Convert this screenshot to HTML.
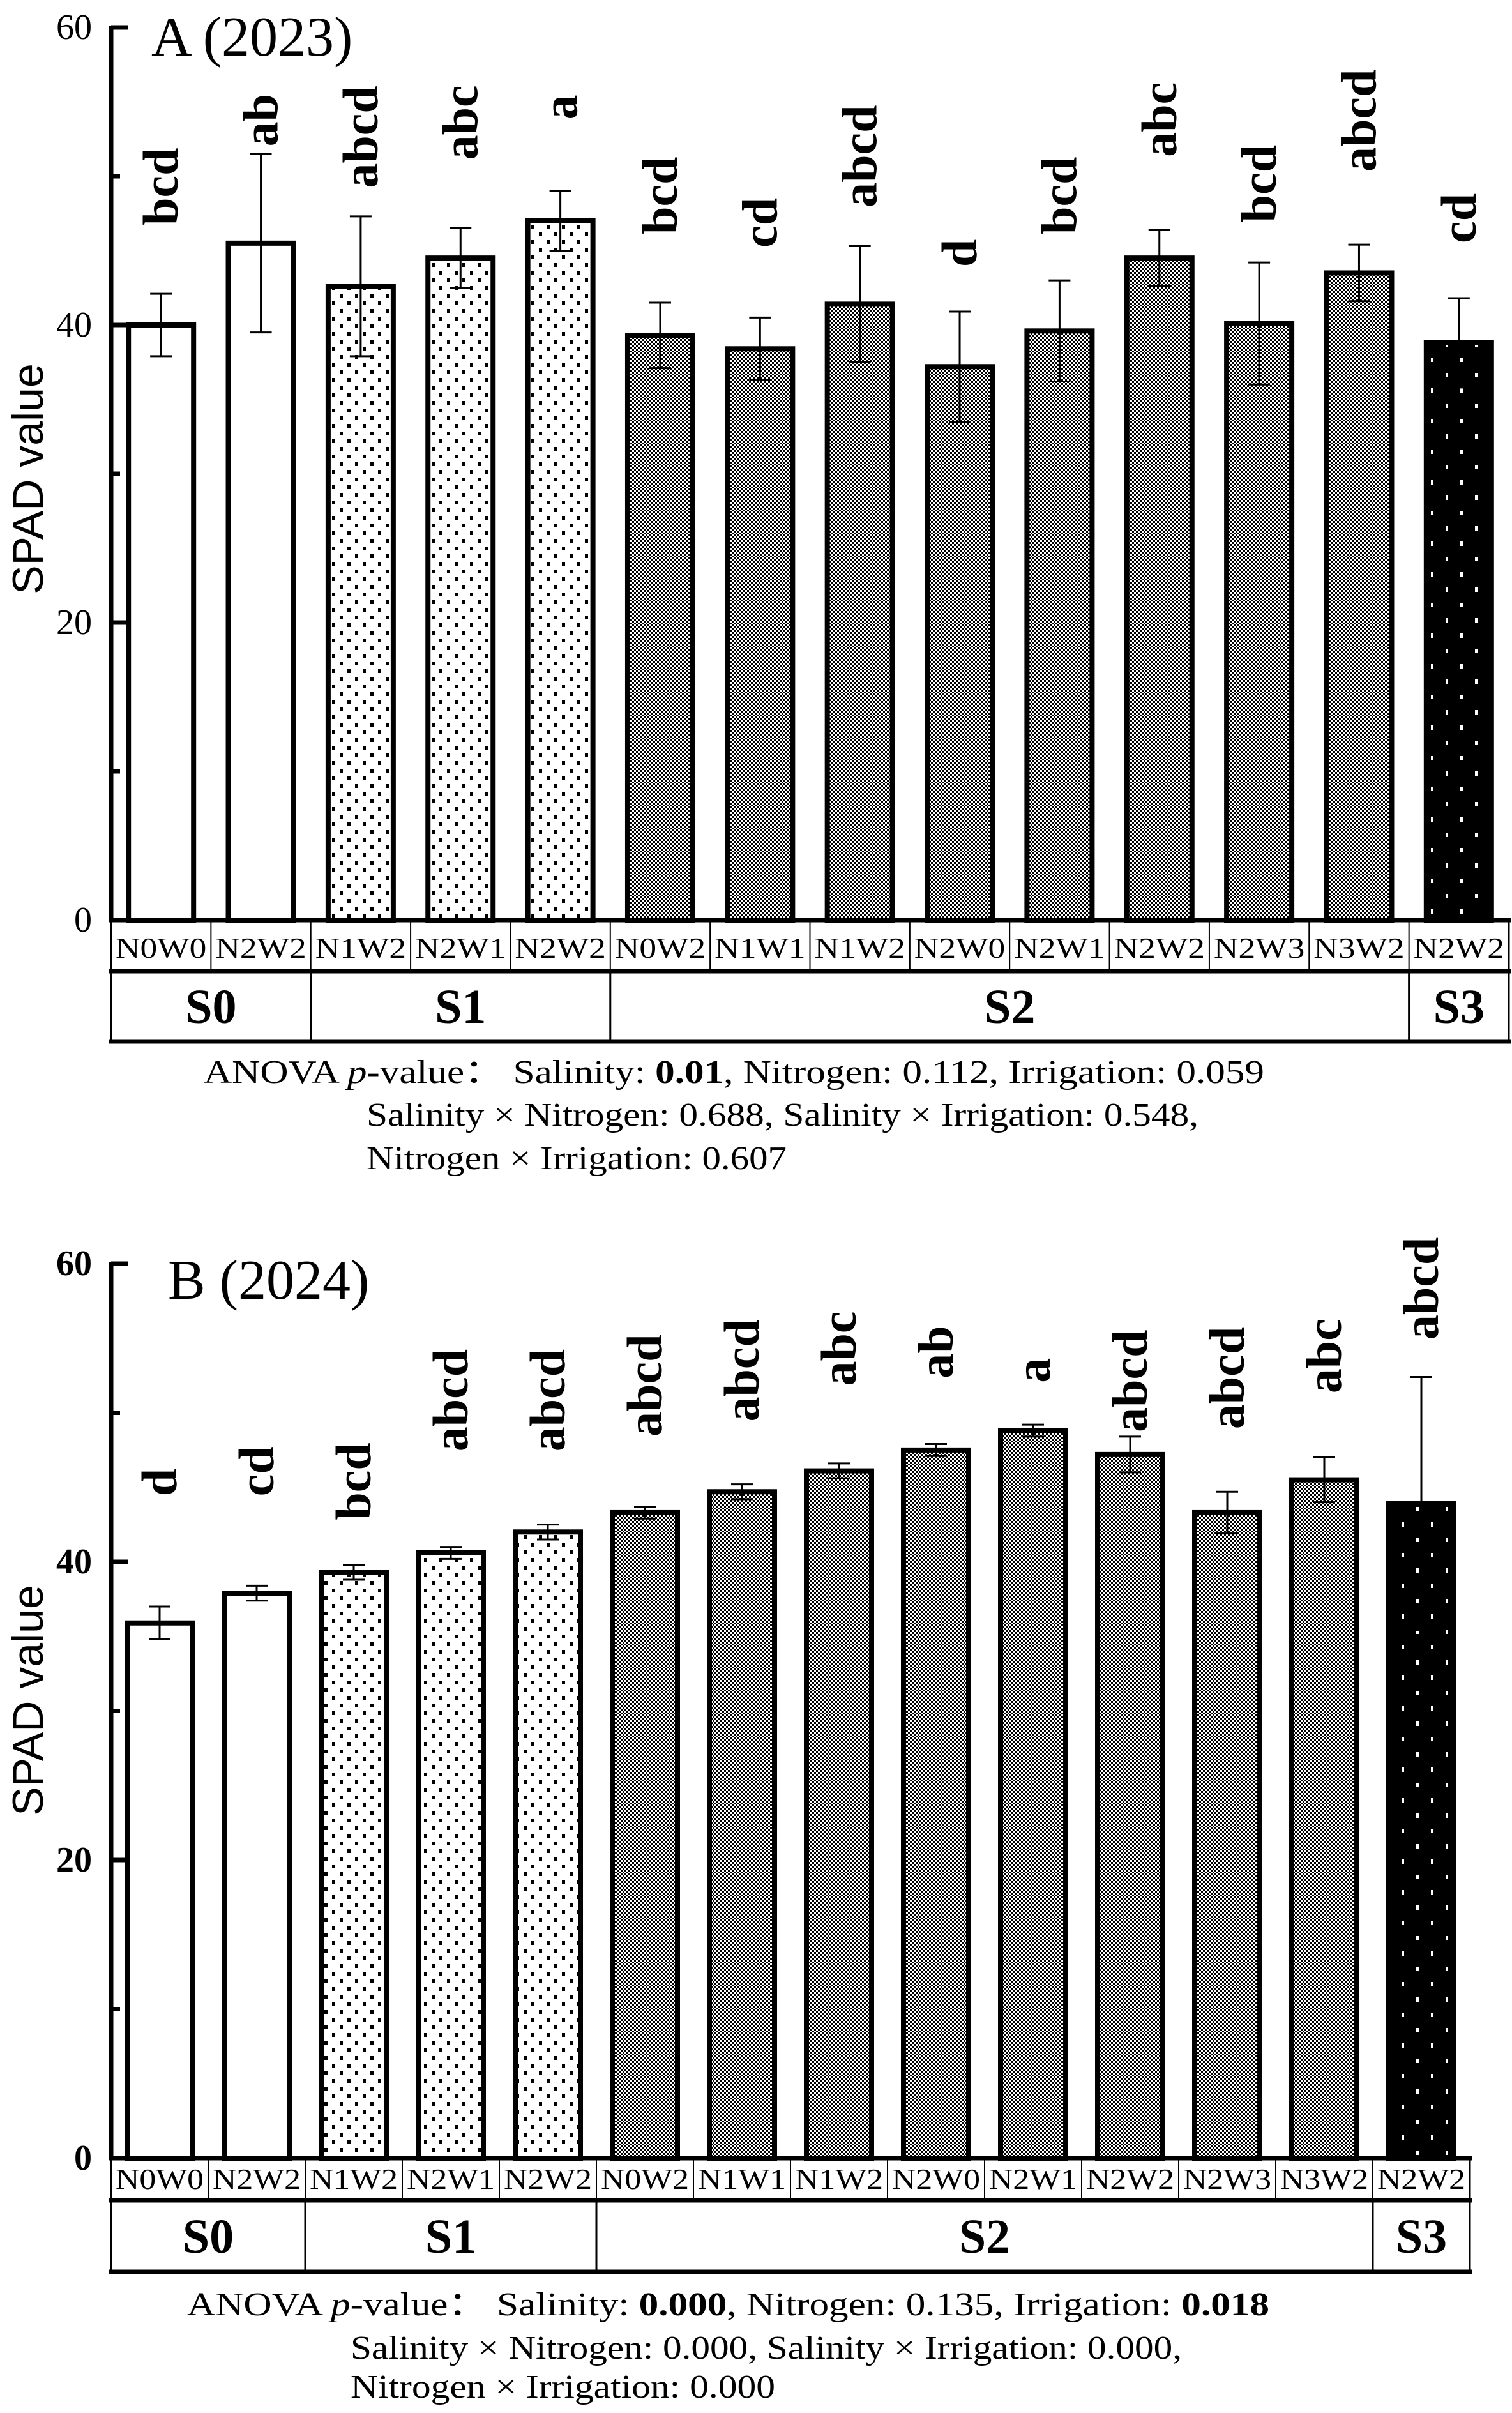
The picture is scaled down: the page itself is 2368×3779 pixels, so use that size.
<!DOCTYPE html>
<html><head><meta charset="utf-8"><style>
html,body{margin:0;padding:0;background:#fff;}
svg{display:block;}
text{font-family:"Liberation Serif","Times New Roman",serif;}
</style></head><body>
<svg id="chart" xmlns="http://www.w3.org/2000/svg" width="2368" height="3779" viewBox="0 0 2368 3779">
<defs>
<pattern id="pS1" width="24" height="24" patternUnits="userSpaceOnUse"><rect width="24" height="24" fill="#fff"/><rect x="4" y="4" width="5" height="6" fill="#000"/><rect x="16" y="16" width="5" height="6" fill="#000"/></pattern>
<pattern id="pS2" width="6" height="6" patternUnits="userSpaceOnUse"><rect width="6" height="6" fill="#fff"/><rect width="3" height="3" fill="#000"/><rect x="3" y="3" width="3" height="3" fill="#000"/></pattern>
<pattern id="pS3" width="46" height="48" patternUnits="userSpaceOnUse"><rect width="46" height="48" fill="#000"/><rect x="10" y="8" width="4" height="7" fill="#fff"/><rect x="33" y="32" width="4" height="7" fill="#fff"/></pattern>
</defs>
<g id="root"></g>
</svg>
<script>
const categories = ["N0W0","N2W2","N1W2","N2W1","N2W2","N0W2","N1W1","N1W2","N2W0","N2W1","N2W2","N2W3","N3W2","N2W2"];
const groups = ["S0","S0","S1","S1","S1","S2","S2","S2","S2","S2","S2","S2","S2","S3"];
const yTicks = [0,20,40,60];
const yMinorTicks = [10,30,50];
const valuesA = [40.0,45.5,42.6,44.5,47.0,39.3,38.4,41.4,37.2,39.6,44.5,40.1,43.5,38.8];
const errorsA = [2.1,6.0,4.7,2.0,2.0,2.2,2.1,3.9,3.7,3.4,1.9,4.1,1.9,3.0];
const lettersA = ["bcd","ab","abcd","abc","a","bcd","cd","abcd","d","bcd","abc","bcd","abcd","cd"];
const letterLevelA = [46.7,52.0,49.2,51.1,53.8,46.1,45.2,47.9,43.9,46.1,51.3,46.9,50.3,45.5];
const valuesB = [35.9,37.9,39.3,40.6,42.0,43.3,44.7,46.1,47.5,48.8,47.2,43.3,45.5,43.9];
const errorsB = [1.1,0.5,0.5,0.4,0.5,0.4,0.5,0.5,0.4,0.4,1.2,1.4,1.5,8.5];
const lettersB = ["d","cd","bcd","abcd","abcd","abcd","abcd","abc","ab","a","abcd","abcd","abc","abcd"];
const letterLevelB = [44.4,44.4,42.8,47.4,47.4,48.4,49.4,51.8,52.3,52.0,48.7,48.9,51.3,54.9];

const NS="http://www.w3.org/2000/svg";
const root=document.getElementById('root');
function mk(tag,attrs,parent){const e=document.createElementNS(NS,tag);for(const k in attrs)e.setAttribute(k,attrs[k]);(parent||root).appendChild(e);return e;}

function drawPanel(cfg){
  const g=mk('g',{});
  
  
  const n=categories.length;
  const cw=(cfg.x1-cfg.x0)/n;
  const y=v=>cfg.y0-v*cfg.ppu;
  const xc=i=>cfg.x0+cw*(i+0.5);
  for(let i=0;i<n;i++){
    const b=mk('rect',{x:xc(i)-51,y:y(cfg.values[i]),width:102,height:cfg.y0-y(cfg.values[i]),fill:groups[i]==='S0'?'#fff':'url(#p'+groups[i]+')',stroke:'#000','stroke-width':8},g);
    
    
    const top=y(cfg.values[i]+cfg.errors[i]), bot=y(cfg.values[i]-cfg.errors[i]);
    const eg=mk('g',{stroke:'#000','stroke-width':3},g);
    
    
    mk('line',{x1:xc(i),x2:xc(i),y1:top,y2:bot},eg);
    mk('line',{x1:xc(i)-17,x2:xc(i)+17,y1:top,y2:top},eg);
    mk('line',{x1:xc(i)-17,x2:xc(i)+17,y1:bot,y2:bot},eg);
    const t=mk('text',{x:0,y:0,'font-size':78,'font-weight':'bold',transform:'translate('+(xc(i)+26)+','+y(cfg.letterLevel[i])+') rotate(-90)'},g);
    t.textContent=cfg.letters[i];
    
    
  }
  const ax=mk('line',{x1:cfg.x0,x2:cfg.x0,y1:y(60)-3,y2:cfg.y0+3,stroke:'#000','stroke-width':7},g);
  
  
  yTicks.forEach(v=>{
    mk('line',{x1:cfg.x0,x2:cfg.x0+26,y1:y(v),y2:y(v),stroke:'#000','stroke-width':7},g);
    const t=mk('text',{x:144,y:y(v)+18,'text-anchor':'end','font-size':56,'font-weight':cfg.boldTicks?'bold':'normal'},g);
    t.textContent=v;
    
    
  });
  yMinorTicks.forEach(v=>{mk('line',{x1:cfg.x0,x2:cfg.x0+14,y1:y(v),y2:y(v),stroke:'#000','stroke-width':7},g);});
  const yt=mk('text',{x:0,y:0,'font-size':68,'text-anchor':'middle',style:'font-family:"Liberation Sans",sans-serif',transform:'translate(67,'+cfg.yTitleY+') rotate(-90)'},g);
  yt.textContent='SPAD value';
  
  
  const tt=mk('text',{x:cfg.titleX,y:cfg.titleY,'font-size':88},g);
  tt.textContent=cfg.title;
  
  
  const tb=mk('g',{},g);
  
  
  mk('line',{x1:cfg.x0,x2:cfg.x0,y1:cfg.y0,y2:cfg.salBottom,stroke:'#000','stroke-width':3},tb);
  mk('line',{x1:cfg.x1,x2:cfg.x1,y1:cfg.y0,y2:cfg.salBottom,stroke:'#000','stroke-width':3},tb);
  for(let i=1;i<n;i++)mk('line',{x1:cfg.x0+cw*i,x2:cfg.x0+cw*i,y1:cfg.y0,y2:cfg.labBottom,stroke:'#000','stroke-width':2},tb);
  for(let i=0;i<n;i++){
    const t=mk('text',{x:xc(i),y:cfg.labBase,'text-anchor':'middle','font-size':46,textLength:cw-14,lengthAdjust:'spacingAndGlyphs'},tb);
    t.textContent=categories[i];
    
    
  }
  const uniq=[...new Set(groups)];
  uniq.forEach(s=>{
    const a=groups.indexOf(s), b=groups.lastIndexOf(s);
    if(b<n-1)mk('line',{x1:cfg.x0+cw*(b+1),x2:cfg.x0+cw*(b+1),y1:cfg.labBottom,y2:cfg.salBottom,stroke:'#000','stroke-width':3},tb);
    const t=mk('text',{x:cfg.x0+cw*(a+b+1)/2,y:cfg.salBase,'text-anchor':'middle','font-size':76,'font-weight':'bold'},tb);
    t.textContent=s;
    
    
  });
  [cfg.y0,cfg.labBottom,cfg.salBottom].forEach(yy=>mk('line',{x1:cfg.x0-3,x2:cfg.x1+3,y1:yy,y2:yy,stroke:'#000','stroke-width':7},tb));
  const an=mk('g',{'font-size':52},g);
  
  
  cfg.anova.forEach((ln,k)=>{
    const t=mk('text',{x:ln.x,y:ln.y,textLength:ln.w,lengthAdjust:'spacingAndGlyphs'},an);
    t.innerHTML=ln.html;
  });
}

drawPanel({name:'panel-a-2023',x0:174,x1:2363,y0:1441,ppu:23.3,labBottom:1521,salBottom:1631,labBase:1500,salBase:1602,
  values:valuesA,errors:errorsA,letters:lettersA,letterLevel:letterLevelA,boldTicks:false,
  title:'A (2023)',titleX:237,titleY:87,yTitleY:750,
  anova:[
   {x:319,y:1696,w:1661,html:'ANOVA  <tspan font-style="italic">p</tspan>-value：  Salinity: <tspan font-weight="bold">0.01</tspan>,  Nitrogen: 0.112,  Irrigation: 0.059'},
   {x:574,y:1763,w:1303,html:'Salinity × Nitrogen: 0.688, Salinity × Irrigation: 0.548,'},
   {x:574,y:1831,w:658,html:'Nitrogen × Irrigation: 0.607'}]});
drawPanel({name:'panel-b-2024',x0:174,x1:2302,y0:3380,ppu:23.35,labBottom:3446,salBottom:3558,labBase:3428,salBase:3528,
  values:valuesB,errors:errorsB,letters:lettersB,letterLevel:letterLevelB,boldTicks:true,
  title:'B (2024)',titleX:263,titleY:2034,yTitleY:2663,
  anova:[
   {x:293,y:3626,w:1695,html:'ANOVA  <tspan font-style="italic">p</tspan>-value：  Salinity: <tspan font-weight="bold">0.000</tspan>,  Nitrogen: 0.135,  Irrigation: <tspan font-weight="bold">0.018</tspan>'},
   {x:549,y:3694,w:1302,html:'Salinity × Nitrogen: 0.000, Salinity × Irrigation: 0.000,'},
   {x:549,y:3755,w:665,html:'Nitrogen × Irrigation: 0.000'}]});
</script>
</body></html>
